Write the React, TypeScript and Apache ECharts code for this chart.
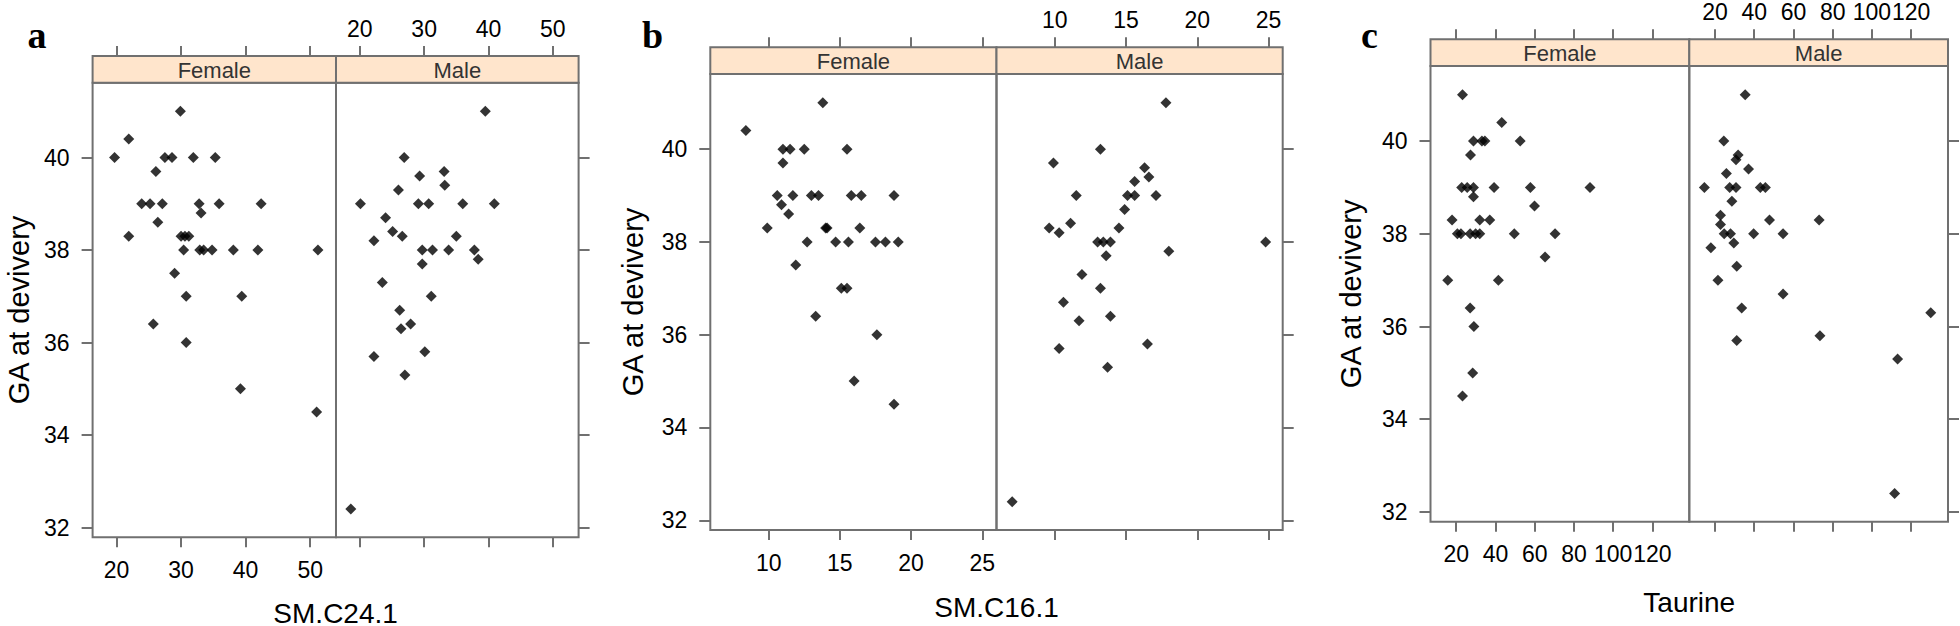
import React, { useEffect, useRef } from "react";
import * as echarts from "echarts";

// ---------------- data ----------------
const sexLabels = ["Female", "Male"];
const panelLetters = ["a", "b", "c"];
const xTitles = ["SM.C24.1", "SM.C16.1", "Taurine"];
const yTitle = "GA at devivery";

const aTicks = [20, 30, 40, 50];
const bTicks = [10, 15, 20, 25];
const cTicks = [20, 40, 60, 80, 100, 120];
const yTicks = [32, 34, 36, 38, 40];

// Panel a: SM.C24.1
const aFemaleX = [29.9, 21.9, 19.7, 27.5, 28.6, 31.9, 35.3, 26.1, 23.9, 25.2, 27.1, 32.8, 35.9, 42.4, 33.1, 26.4, 21.9, 30.0, 30.6, 31.2, 30.4, 32.9, 33.5, 34.8, 38.1, 41.9, 51.2, 29.0, 30.8, 39.4, 25.7, 30.8, 39.2, 51.0];
const aFemaleY = [41.0, 40.4, 40.0, 40.0, 40.0, 40.0, 40.0, 39.7, 39.0, 39.0, 39.0, 39.0, 39.0, 39.0, 38.8, 38.6, 38.3, 38.3, 38.3, 38.3, 38.0, 38.0, 38.0, 38.0, 38.0, 38.0, 38.0, 37.5, 37.0, 37.0, 36.4, 36.0, 35.0, 34.5];
const aMaleX = [39.5, 26.9, 29.3, 33.1, 33.2, 26.0, 20.1, 29.1, 30.7, 36.0, 40.9, 24.0, 25.1, 26.6, 22.2, 35.0, 29.7, 31.3, 33.8, 37.8, 38.4, 29.7, 23.5, 31.1, 26.2, 26.4, 27.9, 30.1, 22.2, 27.0, 18.6];
const aMaleY = [41.0, 40.0, 39.6, 39.7, 39.4, 39.3, 39.0, 39.0, 39.0, 39.0, 39.0, 38.7, 38.4, 38.3, 38.2, 38.3, 38.0, 38.0, 38.0, 38.0, 37.8, 37.7, 37.3, 37.0, 36.7, 36.3, 36.4, 35.8, 35.7, 35.3, 32.4];

// Panel b: SM.C16.1
const bFemaleX = [8.4, 13.8, 11.0, 11.5, 12.5, 15.5, 11.0, 10.6, 11.7, 13.0, 13.5, 15.8, 16.5, 18.8, 10.9, 11.4, 9.9, 14.0, 14.1, 16.4, 12.7, 14.7, 15.6, 17.5, 18.2, 19.1, 11.9, 15.1, 15.5, 13.3, 17.6, 16.0, 18.8];
const bFemaleY = [40.4, 41.0, 40.0, 40.0, 40.0, 40.0, 39.7, 39.0, 39.0, 39.0, 39.0, 39.0, 39.0, 39.0, 38.8, 38.6, 38.3, 38.3, 38.3, 38.3, 38.0, 38.0, 38.0, 38.0, 38.0, 38.0, 37.5, 37.0, 37.0, 36.4, 36.0, 35.0, 34.5];
const bMaleX = [17.8, 13.2, 9.9, 16.3, 16.6, 15.6, 11.5, 15.1, 15.6, 17.1, 14.9, 11.1, 9.6, 14.5, 10.3, 13.0, 13.4, 13.9, 24.8, 18.0, 13.6, 11.9, 13.2, 10.6, 11.7, 13.9, 10.3, 16.5, 13.7, 7.0];
const bMaleY = [41.0, 40.0, 39.7, 39.6, 39.4, 39.3, 39.0, 39.0, 39.0, 39.0, 38.7, 38.4, 38.3, 38.3, 38.2, 38.0, 38.0, 38.0, 38.0, 37.8, 37.7, 37.3, 37.0, 36.7, 36.3, 36.4, 35.7, 35.8, 35.3, 32.4];

// Panel c: Taurine
const cFemaleX = [23.2, 43.2, 28.8, 33.1, 34.6, 52.6, 27.3, 22.8, 25.6, 28.8, 39.3, 57.8, 88.2, 28.8, 59.9, 17.9, 32.0, 37.1, 20.6, 22.4, 27.1, 29.9, 32.0, 49.6, 70.4, 65.3, 15.7, 41.5, 27.1, 29.0, 28.4, 23.2];
const cFemaleY = [41.0, 40.4, 40.0, 40.0, 40.0, 40.0, 39.7, 39.0, 39.0, 39.0, 39.0, 39.0, 39.0, 38.8, 38.6, 38.3, 38.3, 38.3, 38.0, 38.0, 38.0, 38.0, 38.0, 38.0, 38.0, 37.5, 37.0, 37.0, 36.4, 36.0, 35.0, 34.5];
const cMaleX = [35.4, 24.5, 31.8, 30.7, 37.1, 25.8, 14.6, 27.5, 30.7, 43.1, 45.7, 28.6, 22.8, 22.8, 47.8, 73.1, 24.7, 27.9, 39.7, 54.7, 29.6, 17.9, 31.1, 21.5, 54.7, 33.6, 130.0, 31.1, 73.5, 113.1, 111.6];
const cMaleY = [41.0, 40.0, 39.7, 39.6, 39.4, 39.3, 39.0, 39.0, 39.0, 39.0, 39.0, 38.7, 38.4, 38.2, 38.3, 38.3, 38.0, 38.0, 38.0, 38.0, 37.8, 37.7, 37.3, 37.0, 36.7, 36.4, 36.3, 35.7, 35.8, 35.3, 32.4];

// ---------------- layout / style ----------------
const FONT = "'Liberation Sans', Arial, Helvetica, sans-serif";
const SERIF = "'Liberation Serif', 'Times New Roman', serif";
const GRAY = "#707070";
const STRIP = "#FFE5CC";
const Y_MIN = 31.79;
const Y_MAX = 41.62;

const LAYOUT = [
  { left: 92.6, mid: 336, right: 578.6, stripTop: 56, plotTop: 82.7, plotBottom: 537.3, xMin: 16.3, xMax: 54.0, letterX: 37, yTitleX: 19, titleY: 613 },
  { left: 710.3, mid: 996.5, right: 1282.7, stripTop: 47.3, plotTop: 74, plotBottom: 530, xMin: 5.9, xMax: 26.0, letterX: 652.6, yTitleX: 633, titleY: 607 },
  { left: 1430.5, mid: 1689.3, right: 1948, stripTop: 39.3, plotTop: 66, plotBottom: 521.7, xMin: 6.9, xMax: 138.8, letterX: 1369.5, yTitleX: 1351, titleY: 602 },
];

const PANELS = [
  { ticks: aTicks, data: [[aFemaleX, aFemaleY], [aMaleX, aMaleY]] },
  { ticks: bTicks, data: [[bFemaleX, bFemaleY], [bMaleX, bMaleY]] },
  { ticks: cTicks, data: [[cFemaleX, cFemaleY], [cMaleX, cMaleY]] },
];

function buildOption() {
  const grid: any[] = [];
  const xAxis: any[] = [];
  const yAxis: any[] = [];
  const series: any[] = [];
  const graphic: any[] = [];

  PANELS.forEach((P, p) => {
    const L = LAYOUT[p];
    [0, 1].forEach((s) => {
      const g = p * 2 + s;
      const gl = s === 0 ? L.left : L.mid;
      const gw = s === 0 ? L.mid - L.left : L.right - L.mid;
      grid.push({
        left: gl,
        top: L.plotTop,
        width: gw,
        height: L.plotBottom - L.plotTop,
        show: true,
        borderColor: GRAY,
        borderWidth: 2,
        backgroundColor: "rgba(0,0,0,0)",
      });
      const xTick = { show: true, inside: false, length: 10, lineStyle: { color: GRAY, width: 2 }, customValues: P.ticks };
      const labelBase = { fontSize: 23, fontFamily: FONT, color: "#000", customValues: P.ticks };
      xAxis.push({
        type: "value",
        gridIndex: g,
        position: "bottom",
        min: L.xMin,
        max: L.xMax,
        axisLine: { show: false },
        splitLine: { show: false },
        axisTick: xTick,
        axisLabel: { ...labelBase, show: s === 0, margin: 21 },
      });
      xAxis.push({
        type: "value",
        gridIndex: g,
        position: "top",
        offset: L.plotTop - L.stripTop,
        min: L.xMin,
        max: L.xMax,
        axisLine: { show: false },
        splitLine: { show: false },
        axisTick: xTick,
        axisLabel: { ...labelBase, show: s === 1, margin: 16 },
      });
      yAxis.push({
        type: "value",
        gridIndex: g,
        position: s === 0 ? "left" : "right",
        min: Y_MIN,
        max: Y_MAX,
        axisLine: { show: false },
        splitLine: { show: false },
        axisTick: { show: true, inside: false, length: 11, lineStyle: { color: GRAY, width: 2 }, customValues: yTicks },
        axisLabel: { show: s === 0, margin: 23, fontSize: 23, fontFamily: FONT, color: "#000", customValues: yTicks },
      });
      const [xs, ys] = P.data[s];
      series.push({
        type: "scatter",
        xAxisIndex: 2 * g,
        yAxisIndex: g,
        data: xs.map((x, i) => [x, ys[i]]),
        symbol: "diamond",
        symbolSize: 11,
        itemStyle: { color: "#000" },
        silent: true,
      });
      // strip
      graphic.push({
        type: "rect",
        z: 10,
        shape: { x: gl, y: L.stripTop, width: gw, height: L.plotTop - L.stripTop },
        style: { fill: STRIP, stroke: GRAY, lineWidth: 2 },
      });
      graphic.push({
        type: "text",
        z: 11,
        x: gl + gw / 2,
        y: (L.stripTop + L.plotTop) / 2 + 1,
        style: { text: sexLabels[s], font: `22px ${FONT}`, fill: "#333", textAlign: "center", textVerticalAlign: "middle" },
      });
    });
    // x title
    graphic.push({
      type: "text",
      x: (L.left + L.right) / 2,
      y: L.titleY,
      style: { text: xTitles[p], font: `28px ${FONT}`, fill: "#000", textAlign: "center", textVerticalAlign: "middle" },
    });
    // y title
    graphic.push({
      type: "text",
      x: L.yTitleX,
      y: (L.plotTop + L.plotBottom) / 2,
      rotation: Math.PI / 2,
      style: { text: yTitle, font: `29px ${FONT}`, fill: "#000", textAlign: "center", textVerticalAlign: "middle" },
    });
    // panel letter
    graphic.push({
      type: "text",
      x: L.letterX,
      y: 35,
      style: { text: panelLetters[p], font: `bold 38px ${SERIF}`, fill: "#000", textAlign: "center", textVerticalAlign: "middle" },
    });
  });

  return { animation: false, backgroundColor: "#fff", grid, xAxis, yAxis, series, graphic };
}

export default function App() {
  const ref = useRef<HTMLDivElement>(null);
  useEffect(() => {
    document.body.style.margin = "0";
    const chart = echarts.init(ref.current!, null, { renderer: "svg", width: 1960, height: 626 });
    chart.setOption(buildOption() as any);
    return () => chart.dispose();
  }, []);
  return <div ref={ref} style={{ width: 1960, height: 626, background: "#fff" }} />;
}
